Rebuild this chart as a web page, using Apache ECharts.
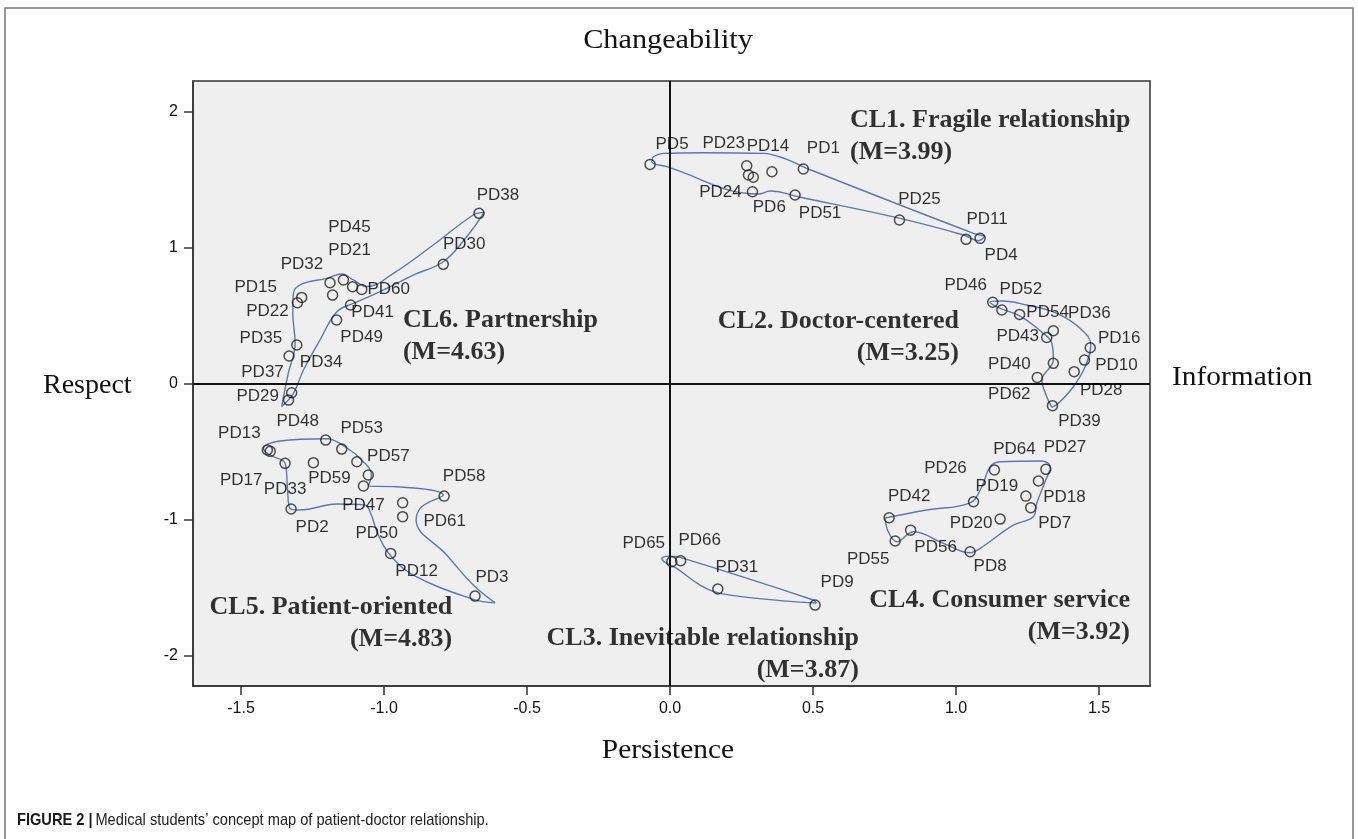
<!DOCTYPE html>
<html><head><meta charset="utf-8">
<script src="https://cdn.jsdelivr.net/npm/echarts@6/dist/echarts.min.js"></script>
<style>html,body{margin:0;padding:0;background:#fff}#c{width:1358px;height:839px}</style>
</head><body><div id="c"></div>
<script>
// ---------- data (data units) ----------
const xTicks = [-1.5, -1.0, -0.5, 0.0, 0.5, 1.0, 1.5];
const yTicks = [-2, -1, 0, 1, 2];

const cl1Names = ['PD5','PD23','','PD6','PD14','PD1','PD24','PD51','PD25','PD11','PD4'];
const cl1X = [-0.070, 0.268, 0.274, 0.291, 0.356, 0.466, 0.288, 0.437, 0.802, 1.035, 1.084];
const cl1Y = [1.615, 1.605, 1.537, 1.520, 1.561, 1.581, 1.414, 1.390, 1.206, 1.064, 1.071];

const cl2Names = ['PD46','PD52','PD54','PD36','PD43','PD16','PD10','PD28','PD40','PD62','PD39'];
const cl2X = [1.128, 1.160, 1.222, 1.340, 1.317, 1.469, 1.449, 1.413, 1.340, 1.284, 1.337];
const cl2Y = [0.601, 0.544, 0.512, 0.392, 0.343, 0.267, 0.176, 0.091, 0.152, 0.049, -0.159];

const cl3Names = ['PD65','PD66','PD31','PD9'];
const cl3X = [0.006, 0.037, 0.167, 0.507];
const cl3Y = [-1.306, -1.299, -1.507, -1.625];

const cl4Names = ['PD64','PD27','PD18','PD19','PD7','PD26','PD42','PD56','PD55','PD20','PD8'];
const cl4X = [1.134, 1.314, 1.288, 1.244, 1.261, 1.061, 0.766, 0.841, 0.787, 1.154, 1.049];
const cl4Y = [-0.632, -0.627, -0.713, -0.824, -0.909, -0.865, -0.983, -1.074, -1.154, -0.993, -1.233];

const cl5Names = ['PD13','PD17','PD48','PD53','','PD57','PD47','PD33','PD59','PD2','PD61','PD50','PD58','PD12','PD3'];
const cl5X = [-1.408, -1.398, -1.204, -1.148, -1.095, -1.055, -1.072, -1.346, -1.247, -1.325, -0.935, -0.935, -0.790, -0.977, -0.682];
const cl5Y = [-0.485, -0.495, -0.412, -0.478, -0.571, -0.669, -0.750, -0.583, -0.578, -0.919, -0.873, -0.975, -0.824, -1.245, -1.559];

const cl6Names = ['PD38','PD30','PD45','PD21','PD32','PD60','','PD15','PD22','PD41','PD49','PD35','PD34','PD29','PD37'];
const cl6X = [-0.668, -0.793, -1.142, -1.110, -1.189, -1.078, -1.180, -1.288, -1.303, -1.117, -1.166, -1.305, -1.332, -1.323, -1.334];
const cl6Y = [1.255, 0.880, 0.765, 0.716, 0.745, 0.696, 0.654, 0.637, 0.598, 0.581, 0.471, 0.287, 0.206, -0.064, -0.118];

// cluster outlines (smoothed hulls), data units
const cl1HullX = [1.101, 1.078, 1.026, 0.804, 0.455, 0.350, 0.309, -0.012, -0.064, -0.058, -0.023, 0.117, 0.326, 0.408, 0.478, 1.061];
const cl1HullY = [1.088, 1.054, 1.096, 1.218, 1.373, 1.419, 1.397, 1.598, 1.635, 1.671, 1.696, 1.701, 1.696, 1.652, 1.586, 1.108];
const cl2HullX = [1.335, 1.317, 1.300, 1.340, 1.335, 1.305, 1.224, 1.154, 1.118, 1.160, 1.247, 1.352, 1.434, 1.471, 1.451, 1.410, 1.358];
const cl2HullY = [-0.172, -0.093, 0.029, 0.176, 0.299, 0.373, 0.500, 0.556, 0.603, 0.610, 0.581, 0.520, 0.409, 0.287, 0.127, -0.020, -0.142];
const cl3HullX = [0.512, 0.408, 0.175, 0.105, 0.023, -0.017, -0.029, 0.000, 0.047, 0.501];
const cl3HullY = [-1.610, -1.596, -1.539, -1.478, -1.355, -1.311, -1.282, -1.265, -1.282, -1.588];
const cl4HullX = [0.752, 0.897, 1.049, 1.090, 1.119, 1.154, 1.300, 1.329, 1.311, 1.282, 1.270, 1.200, 1.084, 1.049, 0.956, 0.851, 0.793, 0.763];
const cl4HullY = [-0.985, -0.926, -0.873, -0.755, -0.608, -0.571, -0.566, -0.608, -0.718, -0.877, -0.976, -1.037, -1.208, -1.240, -1.171, -1.086, -1.160, -1.086];
const cl5HullX = [-0.612, -0.688, -0.898, -0.979, -1.020, -1.049, -1.066, -1.165, -1.294, -1.329, -1.338, -1.346, -1.399, -1.422, -1.364, -1.200, -1.136, -1.078, -1.044, -1.055, -0.956, -0.793, -0.868, -0.888, -0.781, -0.688];
const cl5HullY = [-1.608, -1.583, -1.404, -1.257, -1.110, -0.939, -0.890, -0.882, -0.926, -0.914, -0.755, -0.583, -0.522, -0.473, -0.419, -0.402, -0.461, -0.559, -0.669, -0.750, -0.755, -0.816, -0.902, -1.000, -1.257, -1.478];
const cl6HullX = [-0.650, -0.711, -0.793, -0.898, -1.014, -1.107, -1.165, -1.224, -1.282, -1.317, -1.358, -1.335, -1.311, -1.319, -1.317, -1.288, -1.200, -1.148, -1.107, -1.061, -0.967, -0.828, -0.688];
const cl6HullY = [1.262, 1.083, 0.899, 0.801, 0.679, 0.593, 0.532, 0.324, 0.103, -0.069, -0.165, 0.078, 0.299, 0.520, 0.667, 0.735, 0.777, 0.809, 0.765, 0.716, 0.814, 1.022, 1.243];

const clusterTitles = ['CL1. Fragile relationship','CL2. Doctor-centered','CL3. Inevitable relationship','CL4. Consumer service','CL5. Patient-oriented','CL6. Partnership'];
const clusterMeans = ['(M=3.99)','(M=3.25)','(M=3.87)','(M=3.92)','(M=4.83)','(M=4.63)'];

// ---------- layout / style ----------
const annotLayout = [
  {at:[0.629, 1.824], align:'left'},
  {at:[1.010, 0.346], align:'right'},
  {at:[0.660, -1.985], align:'right'},
  {at:[1.608, -1.706], align:'right'},
  {at:[-0.762, -1.757], align:'right'},
  {at:[-0.934, 0.353], align:'left'}
];
const labelOffset = {
  PD5:[22,-20], PD23:[-23,-22], PD14:[-4,-25], PD1:[20,-21], PD24:[-32,1], PD6:[16,30], PD51:[25,18], PD25:[20,-21], PD11:[21,-20], PD4:[21,17],
  PD46:[-27,-17], PD52:[19,-21], PD54:[28,-2], PD36:[36,-17], PD43:[-29,-1], PD16:[29,-9], PD40:[-44,1], PD10:[32,5], PD62:[-28,17], PD28:[27,19], PD39:[27,16],
  PD65:[-28,-18], PD66:[19,-20], PD31:[19,-22], PD9:[22,-23],
  PD64:[20,-21], PD27:[19,-22], PD26:[-28,-33], PD19:[-29,-10], PD18:[26,16], PD42:[20,-21], PD20:[-29,4], PD7:[24,16], PD55:[-27,18], PD56:[25,17], PD8:[20,15],
  PD13:[-28,-17], PD17:[-29,29], PD48:[-28,-19], PD53:[20,-21], PD57:[20,-19], PD33:[0,26], PD59:[16,16], PD47:[0,19], PD58:[20,-20], PD2:[21,18], PD61:[42,19], PD50:[-26,17], PD12:[26,18], PD3:[17,-19],
  PD38:[19,-18], PD30:[21,-20], PD45:[6,-53], PD21:[-3,-36], PD32:[-28,-18], PD60:[27,0], PD15:[-46,-10], PD22:[-30,9], PD41:[22,7], PD49:[25,17], PD35:[-36,-7], PD34:[32,6], PD29:[-34,4], PD37:[-26,-28]
};

const clusters = [
  {n:cl1Names, x:cl1X, y:cl1Y, hx:cl1HullX, hy:cl1HullY},
  {n:cl2Names, x:cl2X, y:cl2Y, hx:cl2HullX, hy:cl2HullY},
  {n:cl3Names, x:cl3X, y:cl3Y, hx:cl3HullX, hy:cl3HullY},
  {n:cl4Names, x:cl4X, y:cl4Y, hx:cl4HullX, hy:cl4HullY},
  {n:cl5Names, x:cl5X, y:cl5Y, hx:cl5HullX, hy:cl5HullY},
  {n:cl6Names, x:cl6X, y:cl6Y, hx:cl6HullX, hy:cl6HullY}
];

const HULL_COLOR = '#5a78b2';
const SANS = '"Liberation Sans", Arial, sans-serif';
const SERIF = '"Liberation Serif", "Times New Roman", serif';
const series = [];
clusters.forEach(function (c) {
  const hull = c.hx.map(function (v, i) { return [v, c.hy[i]]; });
  hull.push([c.hx[0], c.hy[0]]);
  series.push({
    type:'line', data:hull, smooth:0.4, symbol:'none', silent:true, z:3,
    lineStyle:{color:HULL_COLOR, width:1.4}
  });
});
clusters.forEach(function (c) {
  series.push({
    type:'scatter', z:5, silent:true,
    symbol:'circle', symbolSize:10,
    itemStyle:{color:'rgba(0,0,0,0)', borderColor:'#222', borderWidth:1.5},
    label:{show:true, position:'inside', formatter:function(p){return p.name;},
      fontFamily:SANS, fontSize:17, color:'#000', textBorderWidth:0},
    data:c.n.map(function (nm, i) {
      return {name:nm, value:[c.x[i], c.y[i]], label:{show:nm !== '', offset:labelOffset[nm] || [0,0]}};
    })
  });
});
// quadrant lines
series.push({
  type:'line', data:[], silent:true,
  markLine:{silent:true, symbol:['none','none'], label:{show:false}, animation:false,
    lineStyle:{color:'#111', width:2, type:'solid'},
    data:[{xAxis:0},{yAxis:0}]}
});
// cluster annotations
series.push({
  type:'scatter', silent:true, symbol:'circle', symbolSize:2,
  itemStyle:{color:'rgba(0,0,0,0)'}, z:6,
  data:annotLayout.map(function (a, i) {
    return {value:a.at, name:clusterTitles[i] + '\n' + clusterMeans[i], label:{align:a.align}};
  }),
  label:{show:true, position:'inside', verticalAlign:'middle', formatter:function(p){return p.name;},
    fontFamily:SERIF, fontWeight:'bold', fontSize:26, lineHeight:32, color:'#000', textBorderWidth:0}
});

const chart = echarts.init(document.getElementById('c'), null, {renderer:'canvas'});
chart.setOption({
  animation:false,
  backgroundColor:'#ffffff',
  grid:{left:193, right:208, top:81, bottom:153, show:true, backgroundColor:'#efefef',
    borderColor:'#333', borderWidth:1.5, containLabel:false, outerBoundsMode:'none'},
  xAxis:{type:'value', min:-1.668, max:1.678,
    axisLine:{show:true, onZero:false, lineStyle:{color:'#333', width:1.5}},
    axisTick:{show:true, length:9, customValues:xTicks, lineStyle:{color:'#333', width:1.5}},
    axisLabel:{show:true, margin:15, customValues:xTicks, formatter:function(v){return v.toFixed(1);},
      fontFamily:SANS, fontSize:16, color:'#111'},
    splitLine:{show:false}},
  yAxis:{type:'value', min:-2.22, max:2.228,
    axisLine:{show:true, onZero:false, lineStyle:{color:'#333', width:1.5}},
    axisTick:{show:true, length:9, customValues:yTicks, lineStyle:{color:'#333', width:1.5}},
    axisLabel:{show:true, margin:15, customValues:yTicks, formatter:function(v){return String(v);},
      fontFamily:SANS, fontSize:16, color:'#111'},
    splitLine:{show:false}},
  graphic:[
    {type:'rect', silent:true, shape:{x:5, y:8, width:1348, height:850},
      style:{fill:'none', stroke:'#777', lineWidth:1.5}},
    {type:'text', x:668, y:41, scaleX:1.08, silent:true, style:{text:'Changeability', fontFamily:SERIF, fontSize:28, fill:'#111', align:'center', verticalAlign:'middle'}},
    {type:'text', x:668, y:751, scaleX:1.05, silent:true, style:{text:'Persistence', fontFamily:SERIF, fontSize:28, fill:'#111', align:'center', verticalAlign:'middle'}},
    {type:'text', x:43, y:386, silent:true, style:{text:'Respect', fontFamily:SERIF, fontSize:28, fill:'#111', align:'left', verticalAlign:'middle'}},
    {type:'text', x:1172, y:378, scaleX:1.05, silent:true, style:{text:'Information', fontFamily:SERIF, fontSize:28, fill:'#111', align:'left', verticalAlign:'middle'}},
    {type:'text', x:17, y:820, scaleX:0.86, silent:true, style:{
      text:'{b|FIGURE 2 |} {n|Medical students\u2019 concept map of patient-doctor relationship.}',
      verticalAlign:'middle', align:'left',
      rich:{
        b:{fontFamily:SANS, fontWeight:'bold', fontSize:17, fill:'#1a1a1a'},
        n:{fontFamily:SANS, fontSize:17, fill:'#222'}
      }}}
  ],
  series:series
});
</script></body></html>
